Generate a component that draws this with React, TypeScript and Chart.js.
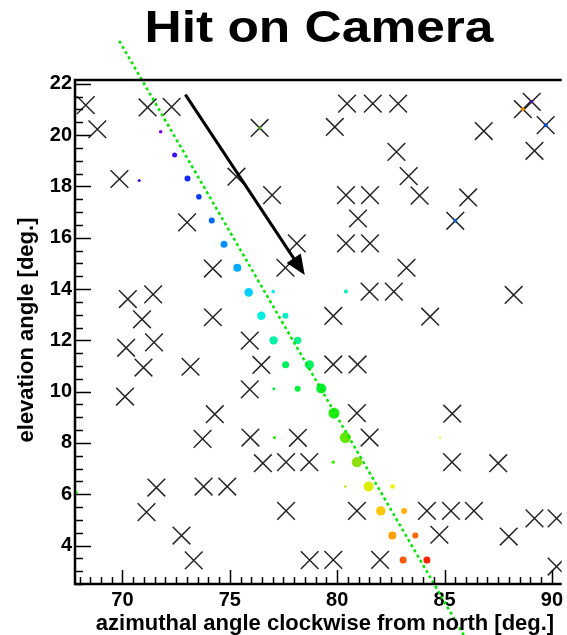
import React, { useEffect, useRef } from 'react';
import { Chart, registerables } from 'chart.js';

Chart.register(...registerables);

const FONT = '"Liberation Sans", Arial, Helvetica, sans-serif';

const TITLE = 'Hit on Camera';
const X_TITLE = 'azimuthal angle clockwise from north [deg.]';
const Y_TITLE = 'elevation angle [deg.]';

const X_MIN = 67.79;
const X_MAX = 90.46;
const Y_MIN = 2.5;
const Y_MAX = 22.15;

// masked (dead) pixels, drawn as crosses
const crossX = [
  68.29, 68.83, 71.17, 72.29, 69.86, 73.01, 76.39, 75.31, 76.97, 78.12,
  80.46, 81.66, 82.84, 79.89, 86.83, 89.06, 88.65, 89.71, 89.19, 82.76,
  83.33, 80.41, 81.53, 83.84, 86.10, 80.97, 85.50, 80.41, 81.53, 74.21,
  77.59, 70.25, 71.43, 70.91, 74.21, 70.17, 71.47, 75.93, 70.98, 73.17,
  76.47, 70.12, 75.93, 74.30, 83.23, 81.51, 82.64, 88.22, 79.82, 84.33,
  79.82, 80.95, 80.92, 85.36, 73.73, 75.96, 78.17, 76.54, 77.62, 78.70,
  71.58, 73.78, 74.88, 71.12, 77.62, 72.75, 73.32, 78.72, 81.51, 85.35,
  87.50, 80.92, 84.18, 85.30, 86.37, 89.19, 90.22, 84.76, 87.99, 79.82,
  82.00, 90.22,
];
const crossY = [
  21.17, 20.23, 21.08, 21.10, 18.29, 16.60, 20.28, 18.38, 17.66, 15.78,
  21.23, 21.23, 21.23, 20.32, 20.16, 21.30, 21.01, 20.39, 19.39, 19.35,
  18.40, 17.66, 17.66, 17.64, 17.57, 16.75, 16.66, 15.78, 15.78, 14.80,
  14.83, 13.61, 13.79, 12.82, 12.90, 11.71, 11.92, 11.99, 10.94, 10.97,
  11.04, 9.81, 10.09, 9.12, 14.83, 13.90, 13.90, 13.77, 12.95, 12.92,
  11.06, 11.06, 9.16, 9.14, 8.16, 8.21, 8.20, 7.21, 7.25, 7.25,
  6.26, 6.30, 6.30, 5.30, 5.35, 4.39, 3.42, 3.43, 8.21, 7.25,
  7.21, 5.35, 5.35, 5.35, 5.35, 5.06, 5.06, 4.42, 4.35, 3.44,
  3.44, 3.18,
];

// hit pixels
const hitX = [
  71.78, 70.78, 72.43, 73.03, 73.56, 74.16, 74.73, 75.35, 75.88, 77.02,
  76.47, 77.59, 77.04, 78.16, 77.60, 78.71, 77.05, 78.16, 80.41, 79.26,
  79.85, 80.38, 79.82, 80.92, 84.79, 80.38, 81.46, 82.58, 82.03, 83.12,
  82.57, 83.64, 83.07, 84.18, 77.08, 67.85, 76.39, 89.71, 85.50, 88.65,
  89.06,
];
const hitY = [
  20.13, 18.23, 19.23, 18.31, 17.60, 16.67, 15.75, 14.83, 13.87, 13.90,
  12.96, 12.96, 12.00, 12.00, 11.05, 11.05, 10.11, 10.11, 13.90, 10.12,
  9.16, 8.21, 7.25, 7.25, 8.21, 6.30, 6.30, 6.30, 5.35, 5.35,
  4.39, 4.39, 3.44, 3.44, 8.21, 6.08, 20.28, 20.39, 16.66, 21.01,
  21.30,
];
// signal amplitude (shown as marker size)
const hitAmplitude = [
  1.8, 1.5, 2.5, 3.0, 2.8, 3.0, 3.5, 4.0, 4.3, 1.8,
  4.2, 3.0, 4.2, 3.7, 3.5, 4.5, 1.5, 3.0, 2.0, 5.0,
  5.5, 5.5, 1.7, 5.2, 1.0, 1.3, 5.0, 2.3, 4.7, 3.0,
  4.0, 3.0, 3.5, 3.5, 1.5, 1.5, 1.5, 2.0, 2.0, 2.0,
  1.5,
];
// arrival order colour
const hitColor = [
  '#7a00e6', '#3a10f0', '#3a10f5', '#1828ff', '#0840ff', '#0064ff', '#0090ff', '#00aaff', '#00d0ff', '#00e8f0',
  '#00f0e0', '#00f0c8', '#00f0a8', '#00f090', '#00f060', '#00f060', '#00f040', '#00f040', '#00f0c0', '#00f030',
  '#20ee10', '#60e800', '#40f000', '#90e010', '#f0f000', '#b0f000', '#d8f000', '#f8f000', '#ffc800', '#ffb000',
  '#ffa000', '#ff6800', '#ff5800', '#ff2000', '#20f000', '#20ff00', '#30b000', '#0050d0', '#0060c0', '#e08000',
  '#6000c0',
];

// fitted track (dotted green line)
const trackX = [69.85, 85.9];
const trackY = [23.675, 0.496];

// direction arrow
const arrowX = [72.93, 78.49];
const arrowY = [21.58, 14.55];

export default function App() {
  const ref = useRef<HTMLCanvasElement>(null);

  useEffect(() => {
    const canvas = ref.current;
    if (!canvas) return;

    const crosses = crossX.map((x, i) => ({ x, y: crossY[i] }));
    const hits = hitX.map((x, i) => ({ x, y: hitY[i] }));
    const track = trackX.map((x, i) => ({ x, y: trackY[i] }));

    const decor = {
      id: 'decor',
      afterDatasetsDraw(chart: any) {
        const ctx = chart.ctx;
        const xs = chart.scales.x;
        const ys = chart.scales.y;
        const { left, right, top, bottom } = chart.chartArea;

        // arrow
        const x0 = xs.getPixelForValue(arrowX[0]);
        const y0 = ys.getPixelForValue(arrowY[0]);
        const x1 = xs.getPixelForValue(arrowX[1]);
        const y1 = ys.getPixelForValue(arrowY[1]);
        const len = Math.hypot(x1 - x0, y1 - y0);
        const ux = (x1 - x0) / len;
        const uy = (y1 - y0) / len;
        const headL = 20;
        const headW = 8.5;
        ctx.save();
        ctx.strokeStyle = '#000';
        ctx.fillStyle = '#000';
        ctx.lineWidth = 3;
        ctx.beginPath();
        ctx.moveTo(x0, y0);
        ctx.lineTo(x1 - ux * headL * 0.8, y1 - uy * headL * 0.8);
        ctx.stroke();
        const bx = x1 - ux * headL;
        const by = y1 - uy * headL;
        ctx.beginPath();
        ctx.moveTo(x1, y1);
        ctx.lineTo(bx - uy * headW, by + ux * headW);
        ctx.lineTo(bx + uy * headW, by - ux * headW);
        ctx.closePath();
        ctx.fill();

        // inward ticks
        ctx.lineWidth = 1.5;
        ctx.beginPath();
        for (const t of ys.ticks) {
          const p = Math.round(ys.getPixelForValue(t.value)) + 0.5;
          const major = Math.abs(t.value / 2 - Math.round(t.value / 2)) < 1e-6;
          ctx.moveTo(left, p);
          ctx.lineTo(left + (major ? 16 : 8), p);
        }
        for (const t of xs.ticks) {
          const p = Math.round(xs.getPixelForValue(t.value)) + 0.5;
          const major = Math.abs(t.value / 5 - Math.round(t.value / 5)) < 1e-6;
          ctx.moveTo(p, bottom);
          ctx.lineTo(p, bottom - (major ? 14 : 7));
        }
        ctx.stroke();

        // frame
        ctx.lineWidth = 2.5;
        ctx.beginPath();
        ctx.moveTo(right, top);
        ctx.lineTo(left, top);
        ctx.lineTo(left, bottom);
        ctx.lineTo(right, bottom);
        ctx.stroke();
        ctx.restore();
      },
      afterDraw(chart: any) {
        const ctx = chart.ctx;
        ctx.save();
        ctx.fillStyle = '#000';
        // main title
        ctx.font = `bold 44px ${FONT}`;
        ctx.textAlign = 'center';
        ctx.textBaseline = 'alphabetic';
        ctx.translate(319, 42);
        ctx.scale(1.17, 1);
        ctx.fillText(TITLE, 0, 0);
        ctx.restore();

        ctx.save();
        ctx.fillStyle = '#000';
        ctx.font = `bold 22px ${FONT}`;
        ctx.textAlign = 'center';
        ctx.textBaseline = 'alphabetic';
        ctx.fillText(X_TITLE, 325, 630);
        ctx.translate(33, 330);
        ctx.rotate(-Math.PI / 2);
        ctx.fillText(Y_TITLE, 0, 0);
        ctx.restore();
      },
    };

    const chart = new Chart(canvas, {
      type: 'scatter',
      data: {
        datasets: [
          {
            data: track,
            showLine: true,
            borderColor: '#00e600',
            borderWidth: 2.5,
            borderDash: [3, 3],
            pointRadius: 0,
            clip: false,
            order: 0,
          } as any,
          {
            data: hits,
            backgroundColor: hitColor,
            pointRadius: hitAmplitude,
            borderWidth: 0,
            order: 1,
          },
          {
            data: crosses,
            pointStyle: 'crossRot',
            pointRadius: 12.5,
            borderColor: '#262626',
            borderWidth: 1.5,
            order: 2,
          },
        ],
      },
      options: {
        animation: false,
        responsive: false,
        devicePixelRatio: 1,
        layout: { padding: { top: 80, left: 0, right: 0, bottom: 0 }, autoPadding: false },
        plugins: { legend: { display: false }, tooltip: { enabled: false }, title: { display: false } },
        events: [],
        scales: {
          x: {
            type: 'linear',
            min: X_MIN,
            max: X_MAX,
            grid: { display: false, drawTicks: false },
            border: { display: false },
            afterFit: (s: any) => { s.height = 51; },
            ticks: {
              stepSize: 0.5,
              includeBounds: false,
              autoSkip: false,
              maxRotation: 0,
              padding: 4,
              color: '#000',
              font: { family: FONT, size: 20, weight: 'bold' },
              callback: (v: any) => (Math.abs(v / 5 - Math.round(v / 5)) < 1e-6 ? String(Math.round(v)) : ''),
            },
          },
          y: {
            type: 'linear',
            min: Y_MIN,
            max: Y_MAX,
            grid: { display: false, drawTicks: false },
            border: { display: false },
            afterFit: (s: any) => { s.width = 75; },
            ticks: {
              stepSize: 0.5,
              includeBounds: false,
              autoSkip: false,
              padding: 3,
              color: '#000',
              font: { family: FONT, size: 20, weight: 'bold' },
              callback: (v: any) => (Math.abs(v / 2 - Math.round(v / 2)) < 1e-6 ? String(Math.round(v)) : ''),
            },
          },
        },
      },
      plugins: [decor],
    } as any);

    return () => chart.destroy();
  }, []);

  return (
    <div style={{ position: 'fixed', left: 0, top: 0, width: 567, height: 635, background: '#fff' }}>
      <canvas ref={ref} width={567} height={635} style={{ display: 'block', width: 567, height: 635 }} />
    </div>
  );
}
